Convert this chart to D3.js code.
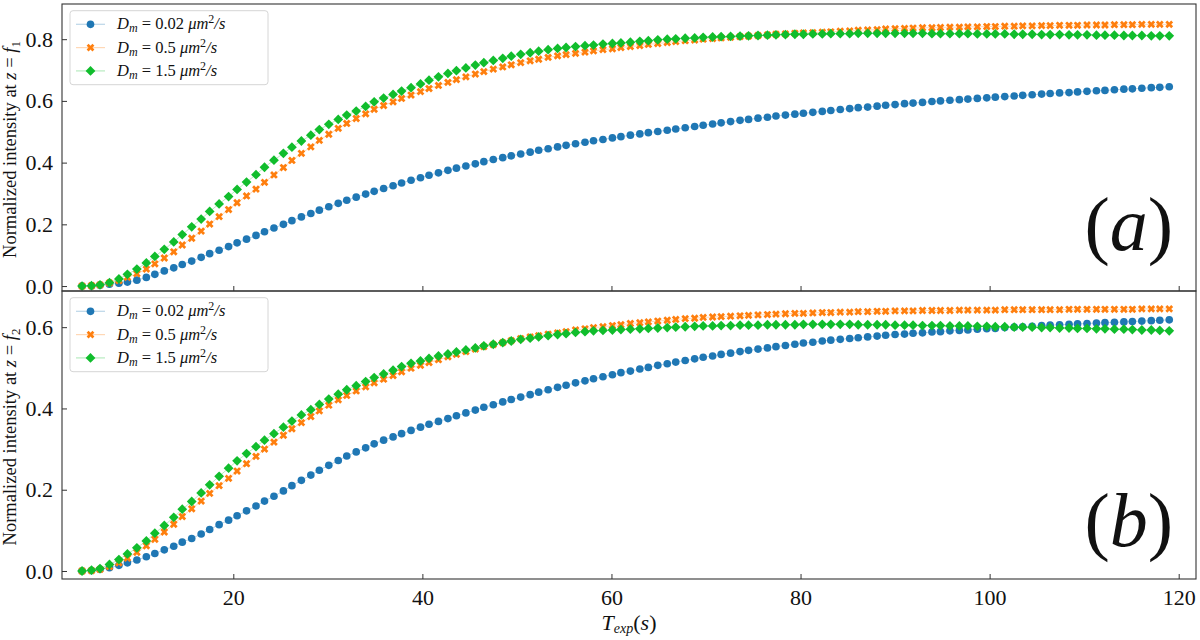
<!DOCTYPE html>
<html>
<head>
<meta charset="utf-8">
<script src="https://cdn.jsdelivr.net/npm/d3@7"></script>
<style>
  body { margin: 0; background: #fff; }
  svg text { font-family: 'Liberation Serif', 'DejaVu Serif', serif; fill: #111; }
</style>
</head>
<body>
<svg id="chart" width="1200" height="640"></svg>
<script>
// Exposure times (s), 120 samples
const T_EXP = [
  4.0, 5.0, 5.9, 6.9, 7.9, 8.8, 9.8, 10.8, 11.7, 12.7,
  13.7, 14.6, 15.6, 16.6, 17.5, 18.5, 19.5, 20.4, 21.4, 22.4,
  23.3, 24.3, 25.3, 26.2, 27.2, 28.2, 29.1, 30.1, 31.1, 32.0,
  33.0, 34.0, 34.9, 35.9, 36.9, 37.8, 38.8, 39.8, 40.7, 41.7,
  42.7, 43.6, 44.6, 45.6, 46.5, 47.5, 48.5, 49.4, 50.4, 51.4,
  52.3, 53.3, 54.3, 55.2, 56.2, 57.2, 58.1, 59.1, 60.1, 61.0,
  62.0, 63.0, 63.9, 64.9, 65.9, 66.8, 67.8, 68.8, 69.7, 70.7,
  71.6, 72.6, 73.6, 74.5, 75.5, 76.5, 77.4, 78.4, 79.4, 80.3,
  81.3, 82.3, 83.2, 84.2, 85.2, 86.1, 87.1, 88.1, 89.0, 90.0,
  91.0, 91.9, 92.9, 93.9, 94.8, 95.8, 96.8, 97.7, 98.7, 99.7,
  100.6, 101.6, 102.6, 103.5, 104.5, 105.5, 106.4, 107.4, 108.4, 109.3,
  110.3, 111.3, 112.2, 113.2, 114.2, 115.1, 116.1, 117.1, 118.0, 119.0
];

// panel (a): intensity at z = f1
const F1_DM002 = [
  0.000, 0.001, 0.003, 0.006, 0.009, 0.013, 0.019, 0.028, 0.038, 0.049,
  0.059, 0.070, 0.081, 0.093, 0.105, 0.116, 0.128, 0.140, 0.152, 0.164,
  0.176, 0.188, 0.200, 0.212, 0.224, 0.235, 0.246, 0.257, 0.268, 0.278,
  0.288, 0.298, 0.307, 0.316, 0.325, 0.334, 0.343, 0.351, 0.359, 0.367,
  0.375, 0.382, 0.389, 0.396, 0.403, 0.410, 0.416, 0.422, 0.428, 0.434,
  0.440, 0.445, 0.451, 0.456, 0.461, 0.466, 0.471, 0.475, 0.480, 0.484,
  0.489, 0.493, 0.497, 0.501, 0.505, 0.509, 0.513, 0.517, 0.521, 0.525,
  0.529, 0.533, 0.537, 0.540, 0.544, 0.547, 0.551, 0.554, 0.557, 0.560,
  0.563, 0.566, 0.569, 0.572, 0.575, 0.578, 0.580, 0.583, 0.586, 0.588,
  0.591, 0.593, 0.595, 0.598, 0.600, 0.602, 0.604, 0.606, 0.608, 0.610,
  0.612, 0.614, 0.616, 0.618, 0.620, 0.622, 0.624, 0.626, 0.627, 0.629,
  0.631, 0.633, 0.634, 0.636, 0.638, 0.639, 0.641, 0.643, 0.644, 0.646
];
const F1_DM05 = [
  0.000, 0.001, 0.004, 0.010, 0.018, 0.028, 0.040, 0.055, 0.072, 0.091,
  0.111, 0.133, 0.155, 0.178, 0.201, 0.225, 0.248, 0.270, 0.292, 0.314,
  0.336, 0.360, 0.384, 0.407, 0.430, 0.451, 0.472, 0.492, 0.511, 0.527,
  0.543, 0.558, 0.573, 0.585, 0.597, 0.608, 0.619, 0.630, 0.640, 0.650,
  0.660, 0.669, 0.678, 0.687, 0.695, 0.703, 0.710, 0.717, 0.724, 0.730,
  0.735, 0.741, 0.746, 0.750, 0.754, 0.758, 0.762, 0.766, 0.769, 0.773,
  0.776, 0.779, 0.783, 0.786, 0.789, 0.792, 0.795, 0.797, 0.800, 0.802,
  0.804, 0.806, 0.808, 0.810, 0.812, 0.814, 0.816, 0.817, 0.819, 0.820,
  0.821, 0.823, 0.824, 0.826, 0.827, 0.829, 0.830, 0.831, 0.833, 0.834,
  0.835, 0.836, 0.837, 0.837, 0.838, 0.839, 0.839, 0.840, 0.840, 0.841,
  0.841, 0.842, 0.842, 0.843, 0.843, 0.844, 0.844, 0.845, 0.845, 0.845,
  0.846, 0.846, 0.846, 0.847, 0.847, 0.847, 0.848, 0.848, 0.848, 0.848
];
const F1_DM15 = [
  0.000, 0.001, 0.004, 0.011, 0.023, 0.038, 0.055, 0.075, 0.096, 0.119,
  0.143, 0.167, 0.192, 0.217, 0.242, 0.266, 0.290, 0.313, 0.337, 0.361,
  0.385, 0.408, 0.430, 0.450, 0.470, 0.489, 0.507, 0.524, 0.540, 0.554,
  0.567, 0.582, 0.597, 0.609, 0.621, 0.632, 0.643, 0.655, 0.667, 0.678,
  0.689, 0.698, 0.707, 0.716, 0.724, 0.731, 0.738, 0.745, 0.751, 0.756,
  0.761, 0.766, 0.770, 0.773, 0.776, 0.779, 0.781, 0.784, 0.786, 0.788,
  0.790, 0.793, 0.795, 0.798, 0.800, 0.801, 0.803, 0.804, 0.806, 0.807,
  0.808, 0.809, 0.810, 0.811, 0.812, 0.813, 0.814, 0.815, 0.816, 0.816,
  0.817, 0.817, 0.818, 0.818, 0.818, 0.819, 0.819, 0.819, 0.819, 0.819,
  0.819, 0.819, 0.819, 0.818, 0.818, 0.818, 0.818, 0.818, 0.817, 0.817,
  0.817, 0.817, 0.816, 0.816, 0.816, 0.815, 0.815, 0.815, 0.814, 0.814,
  0.814, 0.813, 0.813, 0.813, 0.812, 0.812, 0.812, 0.811, 0.811, 0.811
];

// panel (b): intensity at z = f2
const F2_DM002 = [
  0.000, 0.001, 0.004, 0.008, 0.014, 0.020, 0.027, 0.035, 0.043, 0.052,
  0.061, 0.071, 0.080, 0.091, 0.102, 0.114, 0.125, 0.136, 0.148, 0.160,
  0.172, 0.184, 0.197, 0.210, 0.223, 0.236, 0.248, 0.260, 0.272, 0.283,
  0.293, 0.303, 0.313, 0.322, 0.330, 0.338, 0.346, 0.354, 0.361, 0.368,
  0.375, 0.382, 0.389, 0.396, 0.403, 0.409, 0.416, 0.422, 0.428, 0.434,
  0.440, 0.446, 0.452, 0.457, 0.463, 0.468, 0.473, 0.478, 0.483, 0.488,
  0.492, 0.497, 0.501, 0.506, 0.510, 0.514, 0.518, 0.522, 0.526, 0.529,
  0.533, 0.536, 0.540, 0.543, 0.546, 0.549, 0.552, 0.555, 0.558, 0.561,
  0.563, 0.566, 0.568, 0.570, 0.572, 0.574, 0.576, 0.578, 0.580, 0.582,
  0.583, 0.585, 0.586, 0.588, 0.589, 0.591, 0.592, 0.593, 0.595, 0.596,
  0.597, 0.599, 0.600, 0.601, 0.602, 0.604, 0.605, 0.606, 0.607, 0.608,
  0.609, 0.610, 0.611, 0.612, 0.613, 0.614, 0.615, 0.616, 0.617, 0.618
];
const F2_DM05 = [
  0.000, 0.001, 0.004, 0.011, 0.020, 0.032, 0.046, 0.062, 0.078, 0.096,
  0.115, 0.134, 0.153, 0.172, 0.191, 0.210, 0.228, 0.246, 0.264, 0.282,
  0.300, 0.317, 0.334, 0.350, 0.365, 0.380, 0.394, 0.408, 0.421, 0.432,
  0.443, 0.453, 0.463, 0.472, 0.481, 0.490, 0.499, 0.506, 0.513, 0.520,
  0.527, 0.533, 0.540, 0.546, 0.552, 0.557, 0.562, 0.567, 0.572, 0.576,
  0.579, 0.583, 0.586, 0.589, 0.593, 0.596, 0.599, 0.601, 0.604, 0.606,
  0.609, 0.611, 0.613, 0.615, 0.617, 0.619, 0.621, 0.622, 0.624, 0.625,
  0.626, 0.627, 0.628, 0.629, 0.630, 0.631, 0.632, 0.633, 0.634, 0.634,
  0.635, 0.636, 0.636, 0.637, 0.637, 0.638, 0.638, 0.639, 0.639, 0.640,
  0.640, 0.640, 0.641, 0.641, 0.641, 0.641, 0.642, 0.642, 0.642, 0.642,
  0.642, 0.643, 0.643, 0.643, 0.643, 0.643, 0.643, 0.643, 0.644, 0.644,
  0.644, 0.644, 0.644, 0.644, 0.644, 0.644, 0.645, 0.645, 0.645, 0.645
];
const F2_DM15 = [
  0.000, 0.002, 0.006, 0.016, 0.028, 0.042, 0.057, 0.074, 0.093, 0.112,
  0.132, 0.152, 0.171, 0.192, 0.212, 0.233, 0.253, 0.271, 0.289, 0.306,
  0.322, 0.338, 0.354, 0.369, 0.384, 0.397, 0.410, 0.423, 0.435, 0.446,
  0.456, 0.466, 0.476, 0.485, 0.494, 0.503, 0.511, 0.517, 0.523, 0.529,
  0.534, 0.539, 0.544, 0.549, 0.554, 0.558, 0.562, 0.566, 0.570, 0.573,
  0.576, 0.579, 0.582, 0.584, 0.587, 0.589, 0.591, 0.592, 0.593, 0.594,
  0.595, 0.596, 0.597, 0.598, 0.599, 0.600, 0.601, 0.602, 0.603, 0.603,
  0.604, 0.604, 0.605, 0.605, 0.605, 0.606, 0.606, 0.606, 0.606, 0.607,
  0.607, 0.607, 0.607, 0.607, 0.607, 0.606, 0.606, 0.606, 0.606, 0.605,
  0.605, 0.605, 0.604, 0.604, 0.604, 0.603, 0.603, 0.603, 0.602, 0.602,
  0.601, 0.601, 0.600, 0.600, 0.600, 0.599, 0.599, 0.598, 0.598, 0.597,
  0.597, 0.596, 0.596, 0.595, 0.595, 0.594, 0.593, 0.593, 0.592, 0.591
];

const DM_LABELS = ['0.02', '0.5', '1.5'];
const X_TICKS = [20, 40, 60, 80, 100, 120];
const A_Y_TICKS = [0, 0.2, 0.4, 0.6, 0.8];
const B_Y_TICKS = [0, 0.2, 0.4, 0.6];

// marker style per diffusion coefficient
const styles = [
  { color: '#1f77b4', symbol: d3.symbolCircle, size: 46, rotate: 0 },
  { color: '#ff7f0e', symbol: d3.symbolCross, size: 38, rotate: 45 },
  { color: '#10bd2c', symbol: d3.symbolSquare, size: 48, rotate: 45 }
];

const svg = d3.select('#chart');
svg.append('rect').attr('width', 1200).attr('height', 640).attr('fill', '#fff');

const left = 62, right = 1196;
const x = d3.scaleLinear().domain([1.88, 121.83]).range([left, right]);

const panels = [
  { top: 4, bottom: 291, yDomain: [-0.016, 0.914], ticks: A_Y_TICKS,
    series: [F1_DM002, F1_DM05, F1_DM15], sub: '1', tag: 'a', tagY: 250, showX: false },
  { top: 291, bottom: 579, yDomain: [-0.0197, 0.689], ticks: B_Y_TICKS,
    series: [F2_DM002, F2_DM05, F2_DM15], sub: '2', tag: 'b', tagY: 546, showX: true }
];

// append a text made of styled pieces
function richText(sel, parts) {
  parts.forEach(p => {
    const t = sel.append('tspan').text(p.t);
    if (p.i) t.attr('font-style', 'italic');
    if (p.fs) t.attr('font-size', p.fs);
    if (p.dy) t.attr('dy', p.dy);
  });
  return sel;
}

panels.forEach(p => {
  const y = d3.scaleLinear().domain(p.yDomain).range([p.bottom, p.top]);
  const g = svg.append('g');

  // x axis (inward ticks)
  g.append('g')
    .attr('transform', `translate(0,${p.bottom})`)
    .call(d3.axisBottom(x).tickValues(X_TICKS).tickSizeInner(-5).tickSizeOuter(0)
      .tickPadding(10).tickFormat(p.showX ? d3.format('d') : ''))
    .call(a => a.select('.domain').remove())
    .call(a => a.selectAll('line').attr('stroke', '#333'))
    .call(a => a.selectAll('text').attr('font-size', 22)
      .style('font-family', "'Liberation Serif', serif").attr('fill', '#111'));

  // y axis
  g.append('g')
    .attr('transform', `translate(${left},0)`)
    .call(d3.axisLeft(y).tickValues(p.ticks).tickSizeInner(-5).tickSizeOuter(0)
      .tickPadding(9).tickFormat(d3.format('.1f')))
    .call(a => a.select('.domain').remove())
    .call(a => a.selectAll('line').attr('stroke', '#333'))
    .call(a => a.selectAll('text').attr('font-size', 22)
      .style('font-family', "'Liberation Serif', serif").attr('fill', '#111'));

  // series
  const line = d3.line().x((d, i) => x(T_EXP[i])).y(d => y(d));
  p.series.forEach((vals, k) => {
    const s = styles[k];
    g.append('path')
      .datum(vals)
      .attr('fill', 'none')
      .attr('stroke', s.color)
      .attr('stroke-opacity', 0.3)
      .attr('stroke-width', 1)
      .attr('d', line);
    g.append('g').selectAll('path')
      .data(vals)
      .join('path')
      .attr('d', d3.symbol().type(s.symbol).size(s.size))
      .attr('fill', s.color)
      .attr('transform', (d, i) => `translate(${x(T_EXP[i])},${y(d)}) rotate(${s.rotate})`);
  });

  // frame
  g.append('rect')
    .attr('x', left).attr('y', p.top)
    .attr('width', right - left).attr('height', p.bottom - p.top)
    .attr('fill', 'none').attr('stroke', '#333').attr('stroke-width', 1.1);

  // legend
  const lg = g.append('g').attr('transform', `translate(70,${p.top + 6.7})`);
  lg.append('rect')
    .attr('width', 198).attr('height', 74).attr('rx', 3)
    .attr('fill', '#fff').attr('fill-opacity', 0.8)
    .attr('stroke', '#d6d6d6').attr('stroke-width', 1);
  DM_LABELS.forEach((lab, k) => {
    const s = styles[k];
    const ry = 13.6 + k * 23.3;
    lg.append('line')
      .attr('x1', 6).attr('x2', 35).attr('y1', ry).attr('y2', ry)
      .attr('stroke', s.color).attr('stroke-opacity', 0.3).attr('stroke-width', 1.2);
    lg.append('path')
      .attr('d', d3.symbol().type(s.symbol).size(s.size))
      .attr('fill', s.color)
      .attr('transform', `translate(20.5,${ry}) rotate(${s.rotate})`);
    richText(lg.append('text').attr('x', 47).attr('y', ry + 5).attr('font-size', 16.5), [
      { t: 'D', i: true },
      { t: 'm', i: true, fs: 12, dy: 3 },
      { t: ' = ' + lab + ' ', dy: -3 },
      { t: 'μm', i: true },
      { t: '2', fs: 12, dy: -6 },
      { t: '/s', i: true, dy: 6 }
    ]);
  });

  // panel tag
  richText(g.append('text').attr('x', 1173).attr('y', p.tagY)
    .attr('text-anchor', 'end').attr('font-size', 76), [
    { t: '(' }, { t: p.tag, i: true }, { t: ')' }
  ]);

  // y label
  richText(g.append('text')
    .attr('transform', `translate(16,${(p.top + p.bottom) / 2 + 2}) rotate(-90)`)
    .attr('text-anchor', 'middle').attr('font-size', 18.5), [
    { t: 'Normalized intensity at ' },
    { t: 'z', i: true },
    { t: ' = ' },
    { t: 'f', i: true },
    { t: p.sub, fs: 13, dy: 4 }
  ]);
});

// x label
richText(svg.append('text').attr('x', 629).attr('y', 630)
  .attr('text-anchor', 'middle').attr('font-size', 22), [
  { t: 'T', i: true },
  { t: 'exp', i: true, fs: 14, dy: 3 },
  { t: '(', dy: -3 },
  { t: 's', i: true },
  { t: ')' }
]);
</script>
</body>
</html>
